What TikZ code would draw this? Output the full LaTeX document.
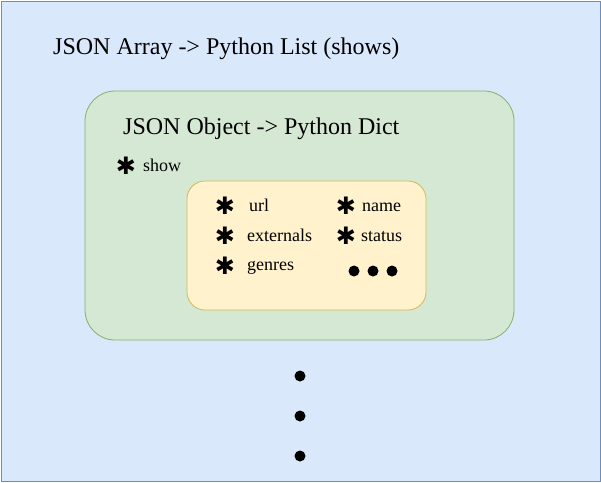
\documentclass[tikz,border=0pt]{standalone}
\usepackage{fontspec}
\setmainfont{Liberation Serif}
\newfontfamily\symfont{DejaVu Sans}
\definecolor{outerfill}{HTML}{DAE8FC}
\definecolor{outerline}{HTML}{6C8EBF}
\definecolor{greenfill}{HTML}{D5E8D4}
\definecolor{greenline}{HTML}{82B366}
\definecolor{yellowfill}{HTML}{FFF2CC}
\definecolor{yellowline}{HTML}{D6B656}
\tikzset{
  bigtext/.style={anchor=base west, inner sep=0pt, font=\fontsize{24}{28}\selectfont},
  itemtext/.style={anchor=base west, inner sep=0pt, font=\fontsize{18}{21}\selectfont},
  star/.style={inner sep=0pt, font=\symfont\fontsize{24}{25}\selectfont},
  dotmark/.style={circle, fill=black, inner sep=0pt, minimum size=11pt},
}
\begin{document}
\begin{tikzpicture}[x=1pt,y=-1pt]
\useasboundingbox (0,0) rectangle (601,482);
\draw[fill=outerfill, draw=outerline, line width=1pt] (1,1) rectangle (600,481);
\node[bigtext] (arr) at (53,54) {JSON Array -> Python List (shows)};
\draw[fill=greenfill, draw=greenline, line width=0.8pt, rounded corners=30pt] (85,91) rectangle (514,340);
\node[bigtext] (obj) at (123,134) {JSON Object -> Python Dict};
\node[star] (s0) at (126,166) {✱};
\node[itemtext] (show) at (143,171) {show};
\draw[fill=yellowfill, draw=yellowline, line width=0.8pt, rounded corners=18pt] (187,181) rectangle (426,310);
\node[star] (s1) at (225,206) {✱};
\node[itemtext] (url) at (249,211) {url};
\node[star] (s2) at (225,236) {✱};
\node[itemtext] (ext) at (247,241) {externals};
\node[star] (s3) at (225,266) {✱};
\node[itemtext] (gen) at (247,270) {genres};
\node[star] (s4) at (346,206) {✱};
\node[itemtext] (name) at (362,211) {name};
\node[star] (s5) at (346,236) {✱};
\node[itemtext] (status) at (361,241) {status};
\node[dotmark] (d1) at (354,271) {};
\node[dotmark] (d2) at (373,271) {};
\node[dotmark] (d3) at (392,271) {};
\node[dotmark] (v1) at (300,376) {};
\node[dotmark] (v2) at (300,416) {};
\node[dotmark] (v3) at (300,456) {};
\end{tikzpicture}
\end{document}
